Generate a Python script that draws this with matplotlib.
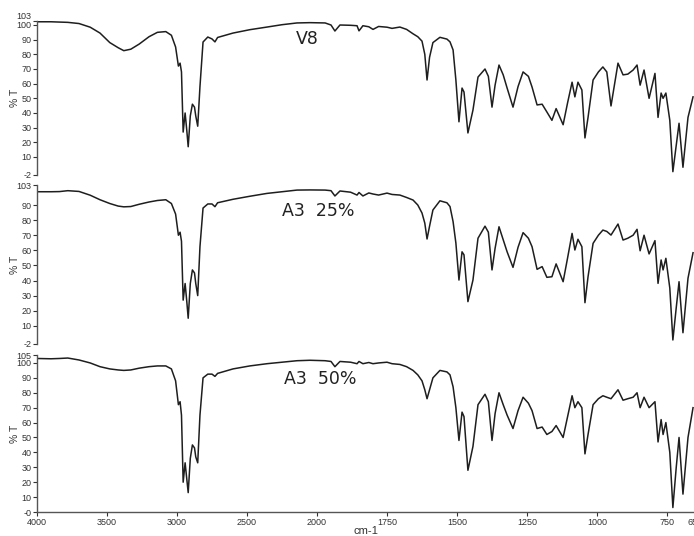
import numpy as np
import matplotlib
matplotlib.use("Agg")
import matplotlib.pyplot as plt

# ---------------- data ----------------
wavenumber = [4000, 3900, 3840, 3780, 3700, 3620, 3550, 3480, 3420, 3380, 3330, 3270, 3200, 3140,
              3080, 3040, 3010, 2990, 2978, 2968, 2956, 2942, 2930, 2920, 2905, 2890, 2875, 2866,
              2852, 2836, 2814, 2780, 2750, 2729, 2710, 2600, 2480, 2357, 2250, 2143, 2050, 1971,
              1950, 1936, 1918, 1880, 1857, 1850, 1836, 1815, 1800, 1780, 1750, 1732, 1704, 1680,
              1657, 1640, 1625, 1615, 1607, 1598, 1586, 1561, 1536, 1525, 1514, 1504, 1493, 1482,
              1475, 1461, 1443, 1425, 1400, 1388, 1375, 1364, 1350, 1335, 1321, 1300, 1282, 1264,
              1245, 1232, 1214, 1196, 1179, 1161, 1146, 1121, 1105, 1089, 1079, 1068, 1054, 1043,
              1032, 1014, 995, 979, 965, 950, 925, 907, 890, 871, 857, 846, 832, 814, 793, 782,
              771, 764, 754, 740, 729, 717, 707, 693, 675, 657]

v8 = [102.2, 102.2, 102.0, 101.8, 101.0, 98.5, 94.5, 88, 84.5, 82.5, 83.5, 87, 92, 95,
      95.5, 93, 85, 72, 74, 68, 27, 40, 28, 17, 38, 46, 44, 38,
      31, 58, 88.4, 91.8, 90.5, 88.5, 91.5, 94.5, 96.8, 98.6, 100.2, 101.4, 101.6, 101.4,
      100, 95.9, 100, 99.8, 99.5, 96, 99.5, 98.8, 97, 99, 98.5, 97.7, 98.6, 97,
      94, 92, 89, 80, 62.5, 78, 88, 91.6, 90.4, 88.5, 83, 62.5, 34, 57,
      54.3, 26.4, 42, 64.5, 70, 65, 44, 59, 72.7, 66, 57, 44, 58, 68,
      65, 57.7, 45.5, 46, 40.7, 35, 43, 32, 47, 61, 51, 61, 55.7, 23,
      37, 62.5, 68, 71.4, 68, 44.8, 74, 66, 66.5, 69.3, 72.7, 59, 69.3, 50, 67, 37,
      53.6, 50, 53.6, 35, 0, 18, 33, 3, 37, 51]

a3_25 = [98.8, 98.8, 98.9, 99.5, 99.0, 96.5, 93.5, 91, 89.3, 88.8, 89, 90.5, 92, 93,
         93.5, 91, 84, 70, 72, 66, 27, 38, 26, 15, 38, 47, 45, 38,
         30, 62.4, 88, 90.7, 90.7, 88.9, 91.5, 93.8, 95.8, 97.7, 98.8, 99.9, 100, 99.9,
         99.5, 96, 99.3, 98.5, 96.6, 98.3, 96, 98, 97.3, 96.6, 97.9, 97, 96.6, 95,
         93.3, 90, 84.7, 78, 67.5, 76, 86.7, 92.8, 91.5, 89, 79, 64.8, 40.3, 59,
         57, 26, 40.3, 68, 76, 72, 47, 61.3, 75.6, 67, 59, 48.7, 62, 71.7,
         68, 62.4, 47.4, 49.2, 42.1, 42.5, 51, 39.2, 55, 71.2, 60.2, 67.3, 62.4, 25.3,
         42.5, 64.6, 70, 73.4, 72.5, 70.1, 77.4, 66.8, 68, 70, 73.9, 59.7, 70, 57.6, 66.4, 38.1,
         53.6, 47, 54.7, 35, 0.6, 22, 39.2, 5.4, 41.5, 58.4]

a3_50 = [103, 102.8, 103, 103.3, 102, 100, 97.5, 96, 95.3, 95, 95.3, 96.5, 97.5, 98,
         98, 96, 88, 72, 74, 65, 20, 33, 22, 13, 36, 45, 43, 37,
         33, 65, 90, 92.5, 92.5, 91, 93, 96, 98, 99.5, 100.5, 101.5, 101.8, 101.5,
         101, 97.5, 101, 100.5, 99.5, 101, 99.5, 100.3, 99.5, 100, 100.5, 99.5, 99, 97.5,
         95, 92, 88, 82, 76, 82, 90, 95, 94, 92, 84, 70, 48, 67,
         64, 28, 44, 72, 79, 74, 48, 66, 80, 72, 65, 56, 68, 77,
         73, 68, 56, 57, 52, 54, 58, 50, 64, 78, 70, 74, 70, 39,
         52, 72, 76, 78, 77, 76, 82, 75, 76, 77, 80, 70, 77, 70, 74, 47,
         62, 52, 60, 40, 3, 30, 50, 12, 50, 70]

samples = ["V8", "A3  25%", "A3  50%"]
series = [v8, a3_25, a3_50]

x_ticks = [4000, 3500, 3000, 2500, 2000, 1750, 1500, 1250, 1000, 750, 650]
y_ticks = [[103, 100, 90, 80, 70, 60, 50, 40, 30, 20, 10, -2],
           [103, 90, 80, 70, 60, 50, 40, 30, 20, 10, -2],
           [105, 100, 90, 80, 70, 60, 50, 40, 30, 20, 10, 0]]
y_tick_labels = [[str(t) for t in y_ticks[0]],
                 [str(t) for t in y_ticks[1]],
                 [str(t) for t in y_ticks[2][:-1]] + ["-0"]]
y_limits = [(-2, 103), (-2, 103), (0, 105)]

# ---------------- layout ----------------
W, H = 694, 536
fig = plt.figure(figsize=(W / 100, H / 100), dpi=100)

narrow = ['Liberation Sans Narrow', 'Liberation Sans', 'DejaVu Sans']

def fwd(w):
    w = np.asarray(w, dtype=float)
    return np.where(w >= 2000, 2000 + (w - 2000) * 0.5, w)

def inv(v):
    v = np.asarray(v, dtype=float)
    return np.where(v >= 2000, 2000 + (v - 2000) * 2.0, v)

# panel pixel extents (top, bottom)
panels_px = [(20.6, 174.6), (185.4, 343.9), (355.5, 512.0)]
left_px, right_px = 37, 695
label_pos = [(307, 39), (318, 211), (320, 379)]

line_color = '#1e1e1e'
for i, (ptop, pbot) in enumerate(panels_px):
    ax = fig.add_axes([left_px / W, 1 - pbot / H, (right_px - left_px) / W, (pbot - ptop) / H])
    ax.set_xscale('function', functions=(fwd, inv))
    ax.plot(wavenumber, series[i], color=line_color, lw=1.1, solid_joinstyle='round')
    ax.set_xlim(4000, 650)
    ax.set_ylim(*y_limits[i])
    for s in ['top', 'right']:
        ax.spines[s].set_visible(False)
    ax.spines['left'].set_color('#555555')
    ax.spines['left'].set_linewidth(1.0)
    ax.set_yticks(y_ticks[i])
    labels = ax.set_yticklabels(y_tick_labels[i], fontfamily=narrow, fontsize=6.5, color='#333333')
    if i == 0:
        labels[0].set_va('bottom')
    ax.tick_params(axis='y', direction='out', length=3, width=0.8, pad=1, colors='#333333')
    if i < 2:
        ax.spines['bottom'].set_visible(False)
        ax.set_xticks([])
    else:
        ax.spines['bottom'].set_color('#555555')
        ax.spines['bottom'].set_linewidth(1.0)
        ax.set_xticks(x_ticks)
        ax.set_xticklabels([str(t) for t in x_ticks], fontfamily=narrow, fontsize=6.5, color='#333333')
        ax.tick_params(axis='x', direction='out', length=3, width=0.8, pad=1, colors='#333333')
        ax.minorticks_off()
    fig.text(15 / W, 1 - ((ptop + pbot) / 2) / H, "% T", rotation=90, ha='center', va='center',
             fontsize=7.5, fontfamily=narrow, color='#333333')
    lx, ly = label_pos[i]
    fig.text(lx / W, 1 - ly / H, samples[i], ha='center', va='center', fontsize=12.5,
             fontfamily='DejaVu Sans', color='#222222')

fig.text(366 / W, 1 - 531 / H, "cm-1", ha='center', va='center', fontsize=8,
         fontfamily=['Liberation Sans', 'DejaVu Sans'], color='#333333')

fig.savefig("out.png", dpi=100)
